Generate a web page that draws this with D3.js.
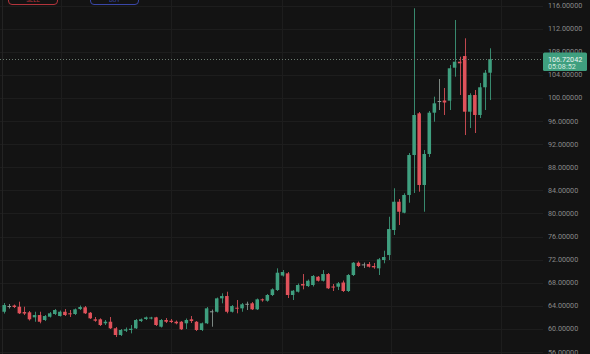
<!DOCTYPE html>
<html>
<head>
<meta charset="utf-8">
<script src="https://cdn.jsdelivr.net/npm/d3@7/dist/d3.min.js"></script>
<style>
  html, body { margin: 0; padding: 0; background: #131313; }
  svg { display: block; }
</style>
</head>
<body>
<svg id="chart" width="590" height="354"></svg>
<script>
// ---- data ----
const openV = [
  62.97,63.96,64.05,63.84,62.92,62.87,62.00,62.40,61.54,62.11,
  62.58,62.23,62.97,62.70,62.58,63.44,63.74,62.80,61.66,61.66,
  60.97,61.24,60.10,58.94,59.68,59.81,60.10,61.36,61.71,61.80,
  62.00,60.38,61.54,61.42,61.24,61.24,60.97,61.66,61.24,59.81,
  60.97,63.05,62.97,65.29,65.69,62.97,63.67,63.56,64.35,64.43,
  63.39,65.12,64.88,65.87,66.73,69.24,69.62,65.87,66.44,67.77,
  67.42,67.60,69.03,68.34,69.50,67.34,67.30,68.03,66.56,69.33,
  71.46,71.17,71.23,70.89,70.49,71.93,72.79,77.12,82.02,80.12,
  83.19,90.11,97.33,84.92,90.29,97.44,99.46,99.55,99.52,105.23,
  106.27,107.25,97.61,100.50,97.04,101.84,104.36
];
const closeV = [
  64.13,63.96,63.79,62.70,62.66,61.66,62.40,61.24,62.23,62.70,
  63.27,62.97,62.40,62.52,63.39,63.79,62.70,61.83,61.42,60.67,
  61.24,60.10,58.94,59.81,59.93,60.03,61.54,61.66,62.00,61.97,
  60.67,61.54,61.24,61.19,60.97,59.93,61.54,61.36,59.81,60.97,
  63.56,63.05,65.29,65.69,62.97,63.96,63.53,64.26,64.35,63.39,
  65.12,64.95,65.87,66.85,69.73,69.85,65.87,66.61,67.60,67.51,
  68.34,69.16,68.34,69.50,67.03,67.16,67.89,66.56,69.33,71.46,
  70.89,71.17,70.77,70.66,72.05,72.45,77.29,82.02,80.29,83.19,
  90.11,97.04,84.92,90.29,97.44,99.06,99.46,99.20,105.13,106.27,
  105.99,97.61,100.50,97.04,101.84,104.36,106.72042
];
const highV = [
  64.48,64.31,64.22,64.71,63.84,63.10,62.97,62.97,62.40,62.92,
  63.44,63.18,63.44,63.27,63.53,64.05,63.96,62.92,62.06,61.83,
  61.54,62.06,60.32,59.98,60.24,60.67,61.71,61.80,62.14,62.09,
  62.09,61.71,61.88,61.71,61.45,61.36,61.80,62.23,61.36,61.10,
  63.79,63.35,65.43,66.16,66.44,64.13,65.00,64.48,64.71,64.65,
  65.26,65.26,66.04,67.03,70.49,70.19,69.85,66.73,67.86,69.50,
  68.55,69.33,69.16,70.19,69.68,67.77,68.12,68.38,69.50,71.58,
  71.67,71.49,71.58,71.41,72.28,73.54,79.42,84.35,82.49,83.48,
  90.46,115.52,97.56,90.98,97.73,100.21,103.27,101.71,105.70,113.49,
  107.13,110.32,100.80,101.37,102.58,104.83,108.59
];
const lowV = [
  62.66,63.53,63.61,62.58,62.40,61.45,61.24,60.97,61.36,61.97,
  62.40,62.14,62.23,62.06,62.40,63.27,62.58,61.71,61.24,60.50,
  60.67,59.98,58.59,58.77,59.46,59.23,59.98,61.19,61.54,61.66,
  60.50,60.24,61.02,61.02,60.79,59.81,59.98,61.02,59.63,59.63,
  60.84,60.38,62.84,64.43,62.70,62.84,62.70,62.97,63.27,63.27,
  63.27,64.71,64.71,65.69,66.56,69.07,65.35,65.00,66.30,66.85,
  67.25,67.34,68.20,68.20,66.90,66.56,66.73,66.39,66.39,69.16,
  70.71,70.54,70.63,70.41,69.33,71.36,71.93,76.26,77.99,80.02,
  81.85,83.53,83.76,80.29,89.77,95.88,97.90,97.04,97.90,103.67,
  100.50,93.57,94.79,93.92,96.52,97.90,99.63
];
const candleIdx = d3.range(openV.length);
const yTicks = d3.range(56, 117, 4);
const vGridIdx = [11.3, 33, 54.8, 76.4, 98.2];
const lastPrice = 106.72042;
const lastTime = "05:08:52";

// ---- layout ----
const W = 590, H = 354;
const plotRight = 543;
const svg = d3.select("#chart");
const colors = { up: "#3f9f7f", down: "#e0525b", flat: "#8f9c96" };

svg.append("rect").attr("width", W).attr("height", H).attr("fill", "#131313");

const x = d3.scaleBand().domain(candleIdx).range([2.4, 491.8]).paddingInner(0.3).paddingOuter(0);
const y = d3.scaleLinear().domain([56, 116]).range([352, 5.5]);
const xIdx = d3.scaleLinear().domain([0, openV.length - 1])
  .range([x(0) + x.bandwidth() / 2, x(openV.length - 1) + x.bandwidth() / 2]);

// grid
const grid = svg.append("g");
grid.selectAll("line.h").data(yTicks).join("line")
  .attr("x1", 0).attr("x2", plotRight)
  .attr("y1", d => Math.round(y(d)) + 0.5).attr("y2", d => Math.round(y(d)) + 0.5)
  .attr("stroke", "#1d1d1d").attr("stroke-width", 1);
grid.selectAll("line.v").data(vGridIdx).join("line")
  .attr("x1", d => Math.round(xIdx(d)) + 0.5).attr("x2", d => Math.round(xIdx(d)) + 0.5)
  .attr("y1", 0).attr("y2", H)
  .attr("stroke", "#1d1d1d").attr("stroke-width", 1);
grid.append("line").attr("x1", 2.5).attr("x2", 2.5).attr("y1", 0).attr("y2", H)
  .attr("stroke", "#232323");

// right axis labels
const fmt = d3.format(".5f");
svg.append("g").selectAll("text").data(yTicks).join("text")
  .attr("x", 548).attr("y", d => y(d))
  .attr("dominant-baseline", "central")
  .attr("font-family", "Roboto, 'Open Sans', sans-serif")
  .attr("font-size", 7.2)
  .attr("fill", "#8a8a8a")
  .text(d => fmt(d));

// candles
const colorOf = i => openV[i] === closeV[i] ? colors.flat : (closeV[i] > openV[i] ? colors.up : colors.down);
const cg = svg.append("g");
cg.selectAll("line.wick").data(candleIdx).join("line")
  .attr("x1", i => Math.round(x(i) + x.bandwidth() / 2) + 0.5)
  .attr("x2", i => Math.round(x(i) + x.bandwidth() / 2) + 0.5)
  .attr("y1", i => y(highV[i])).attr("y2", i => y(lowV[i]))
  .attr("stroke", colorOf).attr("stroke-width", 1).attr("stroke-opacity", 0.85);
cg.selectAll("rect.body").data(candleIdx).join("rect")
  .attr("x", i => x(i))
  .attr("width", x.bandwidth())
  .attr("y", i => y(Math.max(openV[i], closeV[i])))
  .attr("height", i => Math.max(1, Math.abs(y(openV[i]) - y(closeV[i]))))
  .attr("fill", colorOf);

// last price line and label
svg.append("line")
  .attr("x1", 0).attr("x2", plotRight)
  .attr("y1", Math.round(y(lastPrice)) + 0.5).attr("y2", Math.round(y(lastPrice)) + 0.5)
  .attr("stroke", "#6b7a70").attr("stroke-width", 1).attr("stroke-dasharray", "1,2");
svg.append("rect")
  .attr("x", 543).attr("y", y(lastPrice) - 6.5).attr("width", 44).attr("height", 18.5)
  .attr("rx", 1.5).attr("fill", "#3f9f7f");
svg.append("text").attr("x", 548).attr("y", y(lastPrice))
  .attr("dominant-baseline", "central")
  .attr("font-family", "Roboto, 'Open Sans', sans-serif").attr("font-size", 7.2)
  .attr("fill", "#eaf6f0").text(fmt(lastPrice));
svg.append("text").attr("x", 548).attr("y", y(lastPrice) + 7.3)
  .attr("dominant-baseline", "central")
  .attr("font-family", "Roboto, 'Open Sans', sans-serif").attr("font-size", 7.2)
  .attr("fill", "#d2ebdf").text(lastTime);

// top buttons (cut off at the top edge)
const buttons = [
  { label: "SELL", x0: 8.5, w: 49, c: "#b3343c" },
  { label: "BUY", x0: 90.5, w: 48, c: "#3a47a8" }
];
const bg = svg.append("g");
buttons.forEach(b => {
  bg.append("rect").attr("x", b.x0).attr("y", -12).attr("width", b.w).attr("height", 16.5)
    .attr("rx", 3.5).attr("fill", "none").attr("stroke", b.c).attr("stroke-width", 1);
  bg.append("text").attr("x", b.x0 + b.w / 2).attr("y", 1.5)
    .attr("text-anchor", "middle").attr("font-family", "Roboto, sans-serif")
    .attr("font-size", 6).attr("fill", b.c).text(b.label);
});
</script>
</body>
</html>
